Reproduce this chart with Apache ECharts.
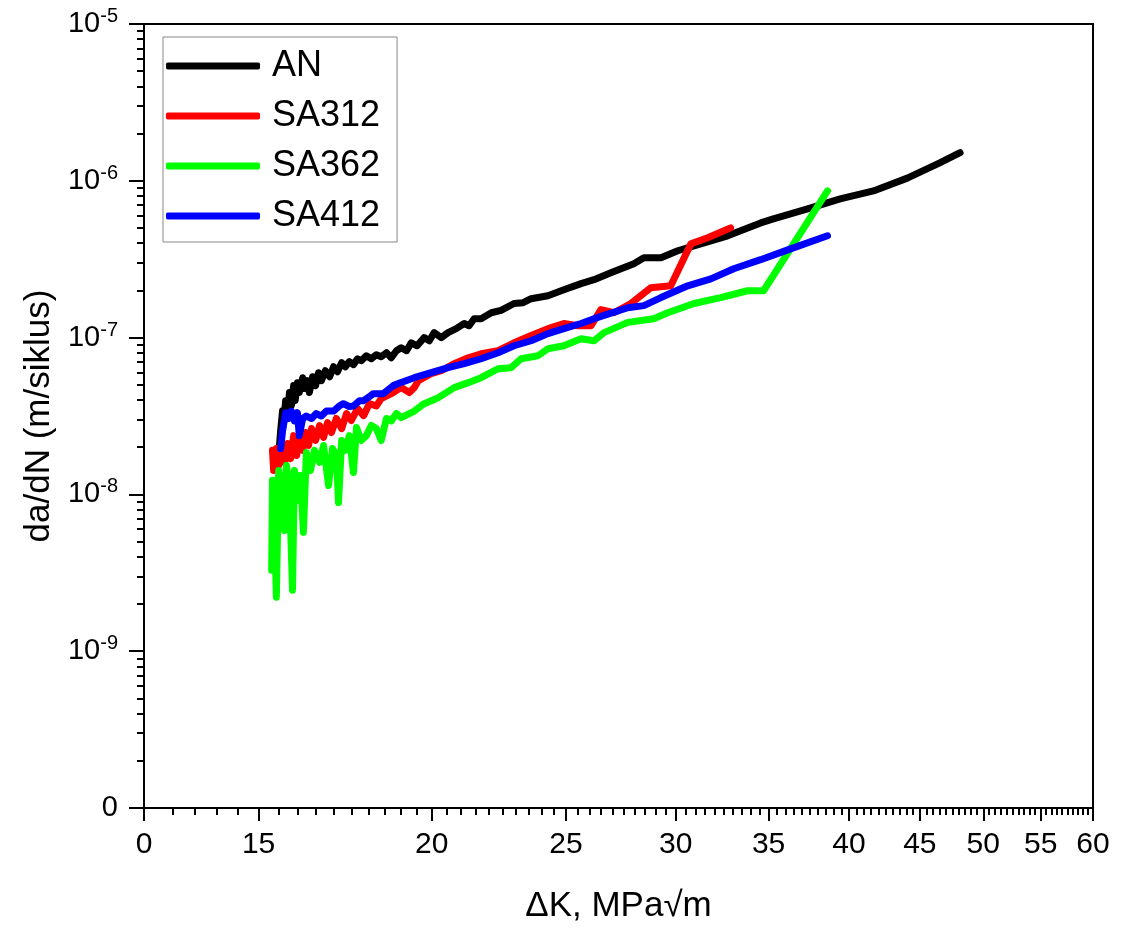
<!DOCTYPE html>
<html>
<head>
<meta charset="utf-8">
<title>da/dN vs ΔK</title>
<style>
  html, body { margin: 0; padding: 0; background: #fff; }
  #chart { width: 1145px; height: 941px; }
</style>
<script src="https://cdn.jsdelivr.net/npm/echarts@6/dist/echarts.min.js"></script>
</head>
<body>
<div id="chart"></div>
<script>
// ΔK (MPa√m) and da/dN (m/siklus)
var anDK = [15.53, 15.56, 15.61, 15.63, 15.69, 15.74, 15.79, 15.84, 15.90, 15.94, 16.00, 16.05, 16.14, 16.19, 16.27, 16.32, 16.41, 16.49, 16.57, 16.65,
  16.76, 16.88, 16.99, 17.10, 17.22, 17.33, 17.44, 17.56, 17.68, 17.79, 17.94, 18.09, 18.24, 18.39, 18.55, 18.70, 18.86, 19.01, 19.18, 19.33,
  19.52, 19.75, 19.92, 20.08, 20.32, 20.55, 20.83, 21.11, 21.28, 21.46, 21.71, 22.08, 22.44, 22.93, 23.28, 23.59, 24.26, 24.91, 25.63, 26.19,
  26.93, 27.98, 28.45, 29.27, 30.10, 30.92, 32.70, 34.54, 35.28, 37.34, 39.42, 41.66, 44.07, 46.51, 48.11];
var anRate = [2.05e-8, 2.55e-8, 3.42e-8, 2.75e-8, 3.96e-8, 3.18e-8, 4.46e-8, 3.68e-8, 4.94e-8, 3.96e-8, 5.16e-8, 4.46e-8, 5.55e-8, 4.73e-8, 5.31e-8, 4.46e-8, 5.63e-8, 4.94e-8, 5.97e-8, 5.31e-8,
  6.15e-8, 5.63e-8, 6.52e-8, 6.06e-8, 6.92e-8, 6.52e-8, 7.02e-8, 6.72e-8, 7.33e-8, 7.12e-8, 7.66e-8, 7.33e-8, 7.78e-8, 7.55e-8, 8.01e-8, 7.44e-8, 8.25e-8, 8.62e-8, 8.25e-8, 9.27e-8,
  8.87e-8, 1.0e-7, 9.55e-8, 1.076e-7, 1.0e-7, 1.076e-7, 1.14e-7, 1.23e-7, 1.19e-7, 1.32e-7, 1.32e-7, 1.44e-7, 1.49e-7, 1.65e-7, 1.67e-7, 1.77e-7, 1.85e-7, 2.02e-7, 2.21e-7, 2.34e-7,
  2.59e-7, 2.96e-7, 3.23e-7, 3.23e-7, 3.58e-7, 3.85e-7, 4.46e-7, 5.39e-7, 5.72e-7, 6.62e-7, 7.66e-7, 8.62e-7, 1.04e-6, 1.30e-6, 1.51e-6];

var sa312DK = [15.35, 15.38, 15.45, 15.51, 15.58, 15.66, 15.74, 15.82, 15.90, 15.98, 16.05, 16.14, 16.22, 16.30, 16.38, 16.49, 16.60, 16.71, 16.82, 16.93,
  17.07, 17.22, 17.36, 17.50, 17.68, 17.86, 18.03, 18.24, 18.39, 18.70, 19.01, 19.27, 19.43, 19.56, 19.98, 20.32, 20.76, 21.25, 21.71, 22.33,
  22.93, 23.59, 24.26, 24.91, 25.50, 26.06, 26.49, 27.07, 27.84, 28.78, 29.75, 30.76, 31.63, 32.86];
var sa312Rate = [1.91e-8, 1.42e-8, 1.96e-8, 1.53e-8, 2.05e-8, 1.60e-8, 2.11e-8, 1.69e-8, 2.37e-8, 1.77e-8, 2.31e-8, 1.91e-8, 2.48e-8, 2.05e-8, 2.63e-8, 2.21e-8, 2.75e-8, 2.31e-8, 2.87e-8, 2.48e-8,
  3.05e-8, 2.63e-8, 3.28e-8, 2.96e-8, 3.53e-8, 3.18e-8, 3.79e-8, 3.66e-8, 4.08e-8, 4.39e-8, 4.80e-8, 4.46e-8, 4.80e-8, 5.31e-8, 5.89e-8, 6.15e-8, 6.82e-8, 7.44e-8, 7.89e-8, 8.25e-8,
  9.27e-8, 1.03e-7, 1.14e-7, 1.23e-7, 1.19e-7, 1.19e-7, 1.51e-7, 1.44e-7, 1.65e-7, 2.08e-7, 2.14e-7, 3.96e-7, 4.33e-7, 5.01e-7];

var sa362DK = [15.33, 15.35, 15.40, 15.45, 15.51, 15.56, 15.61, 15.66, 15.71, 15.79, 15.87, 15.92, 16.00, 16.08, 16.16, 16.24, 16.35, 16.46, 16.60, 16.71,
  16.85, 16.96, 17.07, 17.13, 17.22, 17.33, 17.44, 17.56, 17.65, 17.79, 17.94, 18.09, 18.24, 18.39, 18.55, 18.70, 18.86, 19.01, 19.43, 19.75,
  20.22, 20.76, 21.25, 21.71, 22.33, 22.82, 23.20, 23.86, 24.26, 24.91, 25.63, 26.19, 26.63, 27.70, 28.92, 29.60, 30.92, 32.32, 33.80, 34.71, 38.60];
var sa362Rate = [3.28e-9, 1.23e-8, 6.82e-9, 2.21e-9, 1.42e-8, 7.89e-9, 1.32e-8, 5.89e-9, 1.53e-8, 1.06e-8, 2.45e-9, 1.42e-8, 9.14e-9, 1.32e-8, 5.72e-9, 1.85e-8, 1.42e-8, 1.91e-8, 1.60e-8, 2.05e-8,
  1.14e-8, 1.96e-8, 1.77e-8, 8.87e-9, 2.21e-8, 1.91e-8, 2.37e-8, 1.38e-8, 2.67e-8, 2.21e-8, 2.37e-8, 2.75e-8, 2.63e-8, 2.21e-8, 3.05e-8, 2.94e-8, 3.28e-8, 3.09e-8, 3.40e-8, 3.79e-8,
  4.14e-8, 4.80e-8, 5.16e-8, 5.55e-8, 6.33e-8, 6.43e-8, 7.33e-8, 7.66e-8, 8.49e-8, 8.87e-8, 9.83e-8, 9.55e-8, 1.076e-7, 1.25e-7, 1.32e-7, 1.44e-7, 1.65e-7, 1.80e-7, 1.99e-7, 1.99e-7, 8.62e-7];

var sa412DK = [15.56, 15.61, 15.69, 15.77, 15.84, 15.92, 16.00, 16.05, 16.14, 16.24, 16.38, 16.51, 16.65, 16.79, 16.99, 17.15, 17.27, 17.44, 17.56, 17.74,
  17.86, 18.03, 18.15, 18.45, 18.76, 18.92, 19.43, 19.98, 20.55, 21.11, 21.71, 22.33, 22.93, 23.59, 24.26, 24.91, 25.63, 26.19, 27.70, 28.45,
  29.27, 30.60, 31.80, 33.03, 34.54, 36.30, 38.60];
var sa412Rate = [1.96e-8, 2.54e-8, 3.32e-8, 3.05e-8, 3.40e-8, 2.94e-8, 3.32e-8, 2.37e-8, 3.05e-8, 3.16e-8, 3.05e-8, 3.28e-8, 3.16e-8, 3.40e-8, 3.40e-8, 3.66e-8, 3.79e-8, 3.63e-8, 3.66e-8, 3.96e-8,
  3.96e-8, 4.20e-8, 4.39e-8, 4.39e-8, 4.94e-8, 5.09e-8, 5.55e-8, 5.97e-8, 6.43e-8, 6.82e-8, 7.33e-8, 8.01e-8, 8.87e-8, 9.55e-8, 1.06e-7, 1.14e-7, 1.23e-7, 1.32e-7, 1.55e-7, 1.60e-7,
  1.80e-7, 2.14e-7, 2.37e-7, 2.75e-7, 3.14e-7, 3.68e-7, 4.46e-7];

var seriesNames = ['AN', 'SA312', 'SA362', 'SA412'];
var seriesColors = ['#000000', '#ff0000', '#00ff00', '#0000ff'];

// axis ticks
var xMin = 12.4, xMax = 60;
var xTickValues = [12.4, 15, 20, 25, 30, 35, 40, 45, 50, 55, 60];
var yTickValues = [1e-10, 1e-9, 1e-8, 1e-7, 1e-6, 1e-5];

var xMinor = [];
for (var v = 13; v < 60; v += 0.5) {
  if (v % 5 !== 0) xMinor.push(v);
}
var yMinor = [];
for (var k = -10; k < -5; k++) {
  for (var m = 2; m <= 9; m++) yMinor.push(m * Math.pow(10, k));
}

var FONT = '"Liberation Sans", Arial, sans-serif';

function pairs(xs, ys) {
  return xs.map(function (x, i) { return [x, ys[i]]; });
}

var allData = [pairs(anDK, anRate), pairs(sa312DK, sa312Rate), pairs(sa362DK, sa362Rate), pairs(sa412DK, sa412Rate)];

var chart = echarts.init(document.getElementById('chart'));

var option = {
  animation: false,
  backgroundColor: '#fff',
  grid: {
    left: 144, right: 52, top: 24, bottom: 133,
    show: true, borderColor: '#000', borderWidth: 2,
    outerBoundsMode: 'none'
  },
  legend: {
    orient: 'vertical',
    left: 163, top: 37,
    padding: [11, 17, 8, 3],
    itemGap: 14,
    itemWidth: 94,
    itemHeight: 7,
    icon: 'roundRect',
    borderColor: '#888',
    borderWidth: 1,
    data: seriesNames,
    textStyle: { fontFamily: FONT, fontSize: 36, lineHeight: 36, color: '#000', padding: [0, 0, 0, 7] }
  },
  xAxis: [{
    type: 'log',
    min: xMin, max: xMax,
    name: 'ΔK, MPa√m',
    nameLocation: 'middle',
    nameGap: 81,
    nameTextStyle: { fontFamily: FONT, fontSize: 35, color: '#000' },
    axisLine: { show: true, lineStyle: { color: '#000', width: 2 } },
    axisTick: { show: true, inside: false, length: 13, lineStyle: { color: '#000', width: 2 }, customValues: xTickValues },
    axisLabel: {
      customValues: xTickValues,
      margin: 22,
      fontFamily: FONT, fontSize: 30, color: '#000',
      formatter: function (val) { return val < 13 ? '0' : String(Math.round(val)); }
    },
    splitLine: { show: false }
  }, {
    type: 'log',
    min: xMin, max: xMax,
    position: 'bottom',
    axisLine: { show: false },
    axisTick: { show: true, length: 7, lineStyle: { color: '#000', width: 2 }, customValues: xMinor },
    axisLabel: { show: false },
    splitLine: { show: false }
  }],
  yAxis: [{
    type: 'log',
    min: 1e-10, max: 1e-5,
    name: 'da/dN (m/siklus)',
    nameLocation: 'middle',
    nameGap: 86,
    nameRotate: 90,
    nameTextStyle: { fontFamily: FONT, fontSize: 35, color: '#000' },
    axisLine: { show: true, lineStyle: { color: '#000', width: 2 } },
    axisTick: { show: true, inside: false, length: 15, lineStyle: { color: '#000', width: 2 }, customValues: yTickValues },
    axisLabel: {
      customValues: yTickValues,
      margin: 26,
      color: '#000',
      formatter: function (val) {
        if (val < 2e-10) return '{b|0}';
        var e = Math.round(Math.log(val) / Math.LN10);
        return '{b|10}{s|' + e + '}';
      },
      rich: {
        b: { fontFamily: FONT, fontSize: 29, color: '#000' },
        s: { fontFamily: FONT, fontSize: 20, color: '#000', padding: [0, 0, 15, 0] }
      }
    },
    splitLine: { show: false }
  }, {
    type: 'log',
    min: 1e-10, max: 1e-5,
    position: 'left',
    axisLine: { show: false },
    axisTick: { show: true, length: 7, lineStyle: { color: '#000', width: 2 }, customValues: yMinor },
    axisLabel: { show: false },
    splitLine: { show: false }
  }],
  series: seriesNames.map(function (name, i) {
    return {
      name: name,
      type: 'line',
      xAxisIndex: 0,
      yAxisIndex: 0,
      symbol: 'none',
      color: seriesColors[i],
      lineStyle: { width: 7, color: seriesColors[i], cap: 'round', join: 'round' },
      data: allData[i]
    };
  })
};

chart.setOption(option);
</script>
</body>
</html>
